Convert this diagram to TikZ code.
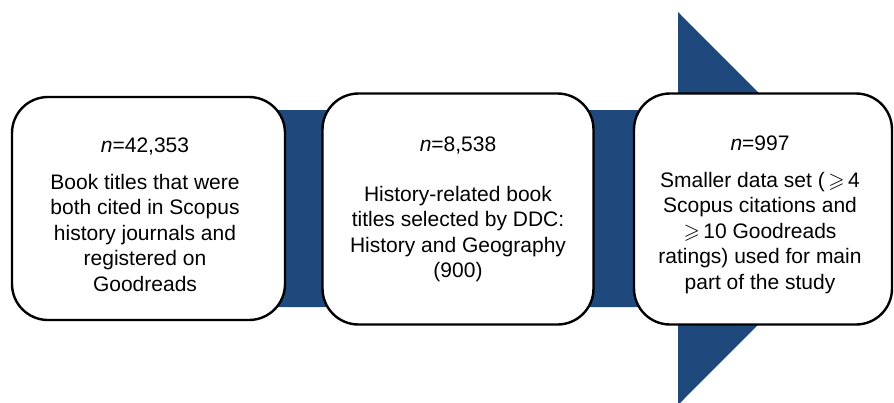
\documentclass[tikz,border=0pt]{standalone}
\usepackage{amssymb}
\usepackage{fontspec}
\setmainfont{Liberation Sans}
\definecolor{arrowblue}{RGB}{31,73,125}
\begin{document}
\begin{tikzpicture}[x=1pt,y=-1pt,
  stagebox/.style={draw=black, line width=2.4pt, fill=white, rounded corners=36pt},
  stagetext/.style={align=center, font=\fontsize{21}{25.5}\selectfont, inner sep=0pt}]
\useasboundingbox (0,0) rectangle (894,402);
% big arrow
\fill[arrowblue] (150,110) -- (678,110) -- (678,12) -- (874,208.5) -- (678,405) -- (678,307) -- (150,307) -- cycle;
% boxes
\node[stagebox, minimum width=273pt, minimum height=223pt] (b1) at (148.5,208.5) {};
\node[stagebox, minimum width=271pt, minimum height=231pt] (b2) at (458,209) {};
\node[stagebox, minimum width=258pt, minimum height=231pt] (b3) at (763,209) {};
% texts
\node[stagetext] (t1) at (145,215) {\textit{n}=42,353\\[11pt]
Book titles that were\\both cited in Scopus\\history journals and\\registered on\\Goodreads};
\node[stagetext] (t2) at (458,209.5) {\textit{n}=8,538\\[24pt]
History-related book\\titles selected by DDC:\\History and Geography\\(900)};
\node[stagetext] (t3) at (760,215) {\textit{n}=997\\[11pt]
Smaller data set (\,$\geqslant$\,4\\Scopus citations and\\$\geqslant$\,10 Goodreads\\ratings) used for main\\part of the study};
\end{tikzpicture}
\end{document}
